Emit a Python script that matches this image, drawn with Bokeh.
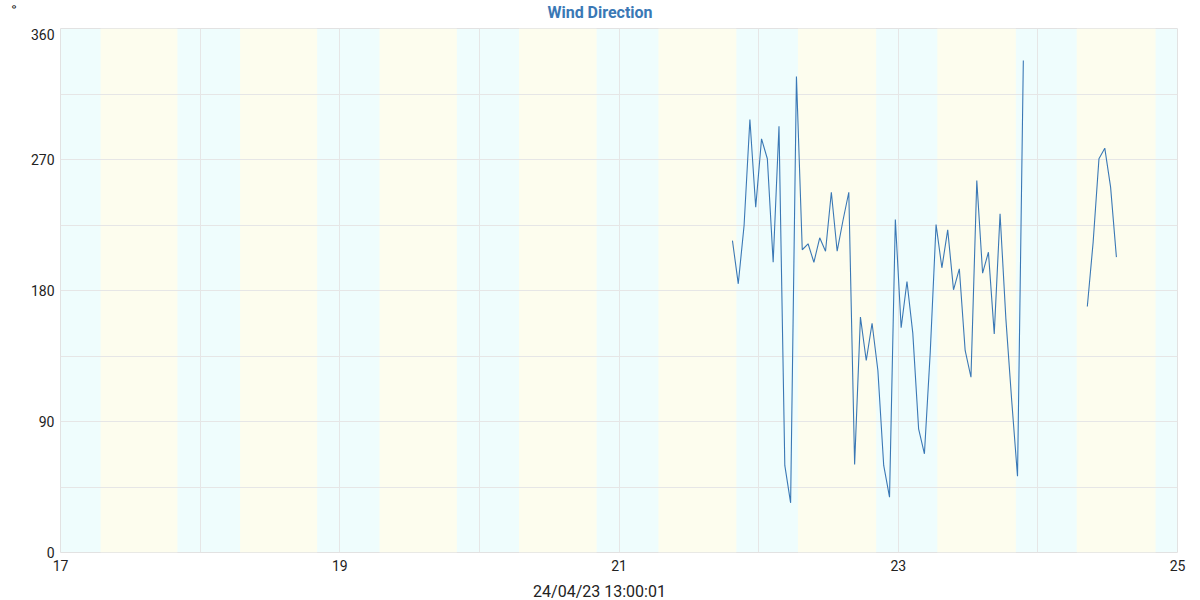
import numpy as np
import pandas as pd
from bokeh.plotting import figure
from bokeh.layouts import column
from bokeh.models import (ColumnDataSource, FixedTicker, DatetimeTickFormatter,
                          Range1d, Label, Title)
from bokeh.embed import file_html
from bokeh.resources import INLINE

# ---- data ----
title_text = "Wind Direction"
unit_text = "°"
xlabel_text = "24/04/23 13:00:01"

seg1_start = "2023-04-21 19:30"
seg1_dir = [214.3, 184.6, 224.7, 297.5, 237.2, 284.2, 270.5, 199.4, 292.9, 59.8,
            34.1, 327.0, 208.0, 212.1, 199.4, 216.2, 207.0, 247.5, 207.0, 228.1,
            247.5, 60.5, 161.7, 131.9, 157.5, 125.0, 59.8, 38.0, 228.8, 154.4,
            186.2, 150.7, 85.0, 67.8, 137.6, 225.3, 195.6, 221.7, 180.5, 194.9,
            138.8, 120.4, 255.6, 191.9, 206.3, 150.2, 232.7, 160.5, 104.4, 52.4,
            338.0]
seg2_start = "2023-04-24 08:30"
seg2_dir = [169.0, 213.2, 270.5, 277.8, 251.0, 202.9]

days = ["2023-04-17", "2023-04-18", "2023-04-19", "2023-04-20",
        "2023-04-21", "2023-04-22", "2023-04-23", "2023-04-24"]
sunrise = ["06:53", "06:52", "06:50", "06:49", "06:47", "06:45", "06:43", "06:41"]
sunset = ["20:06", "20:07", "20:08", "20:09", "20:10", "20:12", "20:13", "20:14"]

x_start = "2023-04-17"
x_end = "2023-04-25"
major_days = ["2023-04-17", "2023-04-19", "2023-04-21", "2023-04-23", "2023-04-25"]
minor_days = ["2023-04-18", "2023-04-20", "2023-04-22", "2023-04-24"]
y_major = [0, 90, 180, 270, 360]
y_minor = [45, 135, 225, 315]

# ---- build sources ----
t1 = pd.date_range(seg1_start, periods=len(seg1_dir), freq="h")
t2 = pd.date_range(seg2_start, periods=len(seg2_dir), freq="h")
xs = list(t1) + [t1[-1] + pd.Timedelta(minutes=30)] + list(t2)
ys = seg1_dir + [np.nan] + seg2_dir
line_src = ColumnDataSource(dict(t=xs, v=ys))

day_left = [pd.Timestamp(d + " " + s) for d, s in zip(days, sunrise)]
day_right = [pd.Timestamp(d + " " + s) for d, s in zip(days, sunset)]
band_src = ColumnDataSource(dict(l=day_left, r=day_right,
                                 b=[0] * len(days), t=[360] * len(days)))

def ms(s):
    return pd.Timestamp(s).value // 10**6

W = 1200
TOP_H, MAIN_H, BOT_H = 28, 550, 22
ML, MR, MB = 60, 23, 26


def text_strip(h):
    # frame is aligned with the main chart's frame, so x data == page pixels
    f = figure(width=W, height=h, x_range=Range1d(ML, W - MR), y_range=Range1d(0, h),
               x_axis_type=None, y_axis_type=None,
               output_backend="svg", toolbar_location=None,
               min_border_left=ML, min_border_right=MR,
               min_border_top=0, min_border_bottom=0)
    f.outline_line_color = None
    f.background_fill_color = "white"
    f.border_fill_color = "white"
    f.xgrid.visible = False
    f.ygrid.visible = False
    return f


# ---- title strip ----
top = text_strip(TOP_H)
top.add_layout(Label(x=599.5, y=TOP_H - 12, text=title_text,
                     text_align="center", text_baseline="middle",
                     text_font="Roboto", text_font_style="bold",
                     text_font_size="16px", text_color="#3a78b5"))
# blank spacer panel so the unit sign sits at the far left of the page
top.add_layout(Title(text=" ", text_font="Roboto", text_font_size="14px",
                     text_color="white", standoff=15), "left")
top.add_layout(Title(text=unit_text, align="left", offset=19,
                     text_font="Roboto", text_font_style="normal",
                     text_font_size="14px", text_color="#222222", standoff=3), "left")

# ---- main chart ----
p = figure(width=W, height=MAIN_H, x_axis_type="datetime",
           x_range=Range1d(pd.Timestamp(x_start), pd.Timestamp(x_end)),
           y_range=Range1d(0, 360),
           output_backend="svg", toolbar_location=None,
           min_border_left=ML, min_border_right=MR,
           min_border_top=0, min_border_bottom=MB)

p.background_fill_color = "#effdfd"
p.border_fill_color = "white"
p.outline_line_color = "#e2e2e2"

p.quad(left="l", right="r", bottom="b", top="t", source=band_src,
       fill_color="#fdfdee", line_color=None, level="underlay")

p.line("t", "v", source=line_src, line_color="#3a78b5", line_width=1.1)

p.xaxis.ticker = FixedTicker(ticks=[ms(d) for d in major_days],
                             minor_ticks=[ms(d) for d in minor_days])
p.xaxis.formatter = DatetimeTickFormatter(days="%d", months="%d", years="%d",
                                          hours="%d", hourmin="%d")
p.yaxis.ticker = FixedTicker(ticks=y_major, minor_ticks=y_minor)

for ax in (p.xaxis, p.yaxis):
    ax.axis_line_color = None
    ax.major_tick_line_color = None
    ax.minor_tick_line_color = None
    ax.major_tick_out = 0
    ax.minor_tick_out = 0
    ax.major_label_text_font = "Roboto"
    ax.major_label_text_font_size = "14px"
    ax.major_label_text_color = "#222222"
p.xaxis.major_label_standoff = 7
p.yaxis.major_label_standoff = 6

for g in (p.xgrid, p.ygrid):
    g.grid_line_color = "#e6e6e6"
    g.minor_grid_line_color = "#e6e6e6"
    g.level = "underlay"

# ---- x label strip ----
bot = text_strip(BOT_H)
bot.add_layout(Label(x=599, y=BOT_H - 13, text=xlabel_text,
                     text_align="center", text_baseline="middle",
                     text_font="Roboto", text_font_size="16px",
                     text_color="#222222"))

layout = column(top, p, bot, spacing=0)

open("out.html", "w").write(file_html(layout, INLINE))
